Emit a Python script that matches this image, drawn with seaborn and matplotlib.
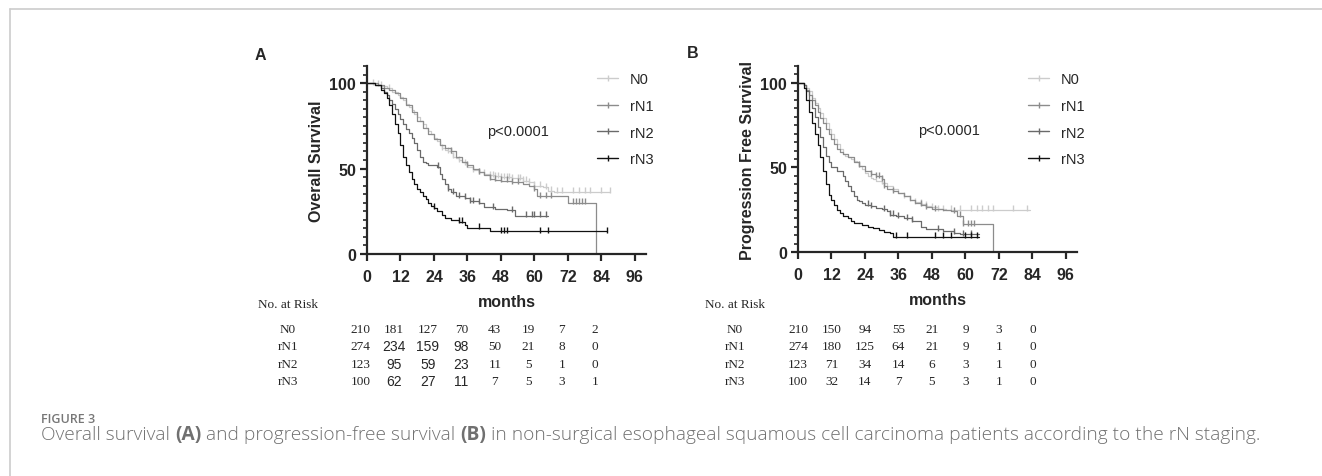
import numpy as np
import pandas as pd
import matplotlib
matplotlib.use("Agg")
import matplotlib.pyplot as plt
import matplotlib.transforms as mtransforms
from matplotlib.lines import Line2D
from matplotlib.ticker import MultipleLocator
import seaborn as sns

sns.set_style('ticks')
plt.rcParams['font.family'] = ['Liberation Sans', 'DejaVu Sans']

GROUPS = ['N0', 'rN1', 'rN2', 'rN3']
COLORS = ['#cccccc', '#8c8c8c', '#6a6a6a', '#111111']
RISK_MONTHS = [0, 12, 24, 36, 48, 60, 72, 84]

# ---- panel A: overall survival (time, survival after step) ----
os_n0_t = [0, 3, 5, 7, 9, 11, 12, 13, 14, 15, 16, 17, 18, 19, 20, 21, 22, 23, 24, 25, 26, 27, 28, 29, 30,
           31, 32, 33, 34, 35, 36, 38, 40, 42, 44, 46, 48, 52, 56, 58, 60, 63, 65, 67, 87]
os_n0_s = [100, 99, 98.5, 97, 95, 93, 92, 90, 88, 86, 84, 82, 80, 78, 76, 74, 72, 70, 68, 66, 64, 62, 61, 60, 59,
           57, 56, 55, 54, 53, 51, 49, 48, 47, 46, 45.5, 45, 44.5, 43, 42, 40, 39, 37, 36.5, 36.5]
os_n1_t = [0, 4, 6, 8, 10, 12, 14, 16, 18, 20, 22, 24, 26, 28, 30, 32, 34, 36, 38, 40, 42, 44, 46, 48,
           52, 56, 58, 60, 61, 72, 82]
os_n1_s = [100, 99, 97, 96, 94, 91, 87, 83, 78, 74, 70, 67, 64, 62, 60, 57, 54, 52, 50, 48, 46, 44, 43.5, 43,
           42, 41, 40, 38, 34, 30, 0]
os_n2_t = [0, 3, 5, 6, 7, 8, 9, 10, 11, 12, 13, 14, 15, 16, 17, 18, 19, 20, 21, 22, 25, 26, 27, 28, 29, 30,
           32, 35, 37, 40, 42, 46, 50, 53, 65]
os_n2_s = [100, 99, 97, 95, 93, 90, 88, 85, 82, 79, 76, 73, 71, 68, 65, 61, 57, 54, 53, 52, 51, 47, 44, 41, 38, 36,
           34, 33, 31, 30, 27.5, 26.5, 25.5, 22.5, 22.5]
os_n3_t = [0, 3, 5, 6, 7, 8, 9, 10, 11, 12, 13, 14, 15, 16, 17, 18, 19, 20, 21, 22, 23, 24, 25, 27, 28, 30,
           33, 35, 36, 44, 86]
os_n3_s = [100, 99, 96, 94, 91, 87, 82, 76, 71, 64, 57, 52, 48, 44, 41, 38, 36, 34, 32, 30, 28, 27, 25, 23, 21, 20,
           19, 17, 15.5, 13.4, 13.4]
os_cens_n0 = [2, 4, 5, 8, 27, 29, 31, 33, 35, 38, 40, 42, 44, 45, 46, 47, 48, 49, 50, 51, 52, 54, 55, 56, 57,
              58, 60, 62, 64, 66, 68, 70, 74, 76, 78, 80, 84, 87]
os_cens_n1 = [30, 36, 40, 44, 46, 48, 50, 52, 54, 60, 62, 64, 66, 74, 75, 76, 77, 78]
os_cens_n2 = [25.5, 29, 31, 33, 35, 37, 38, 40, 45, 52, 57, 59, 60, 62, 64]
os_cens_n3 = [24, 33, 34, 40, 48, 49, 50, 62, 65, 86]

# ---- panel B: progression free survival ----
pfs_n0_t = [0, 2, 3, 4, 5, 6, 7, 8, 9, 10, 11, 12, 13, 14, 15, 16, 17, 18, 19, 20, 21, 22, 23, 24, 25, 26, 27,
            28, 30, 32, 34, 36, 38, 40, 42, 44, 46, 48, 50, 53, 83]
pfs_n0_s = [100, 99, 97, 95, 91, 88, 85, 82, 79, 76, 73, 70, 67, 64, 61, 58, 57, 56, 55, 54, 53, 51, 49, 47, 45, 44, 43,
            42, 41, 39, 37, 35, 33, 31, 29.5, 28.5, 27.5, 26.5, 25.5, 25, 25]
pfs_n1_t = [0, 2, 3, 4, 5, 6, 7, 8, 9, 10, 11, 12, 13, 14, 15, 16, 18, 20, 22, 24, 26, 28, 30, 31, 32, 34, 36,
            38, 40, 42, 44, 46, 48, 52, 55, 57, 59, 70]
pfs_n1_s = [100, 99, 96, 93, 90, 87, 83, 79, 76, 73, 70, 67, 64, 61, 59, 58, 56, 53, 51, 48, 46, 45, 43, 39, 37, 36, 35,
            33, 31, 29, 28, 26.5, 25.5, 25, 24, 21.5, 16.5, 0]
pfs_n2_t = [0, 2, 3, 4, 5, 6, 7, 8, 9, 10, 11, 12, 14, 16, 17, 18, 19, 20, 21, 22, 23, 24, 26, 28, 30, 32, 33,
            35, 38, 41, 44, 46, 52, 56, 58, 65]
pfs_n2_s = [100, 99, 95, 90, 85, 80, 74, 68, 62, 57, 53, 50, 48, 45, 42, 39, 36, 33, 31, 30, 29, 28, 27, 26, 25.5, 24, 22,
            21, 20, 18.5, 15, 13.5, 12.5, 11.5, 10.5, 10.5]
pfs_n3_t = [0, 2, 3, 4, 5, 6, 7, 8, 9, 10, 11, 12, 13, 14, 15, 16, 18, 19, 20, 23, 25, 27, 29, 31, 33, 34, 65]
pfs_n3_s = [100, 97, 90, 83, 76, 70, 63, 56, 48, 40, 34, 31, 28, 25, 23, 21.5, 20, 18.5, 17, 16, 15, 14, 13, 12, 11, 9, 9]
pfs_cens_n0 = [30, 38, 40, 42, 44, 46, 48, 50, 52, 55, 58, 62, 64, 66, 68, 70, 77, 82]
pfs_cens_n1 = [22, 26, 28, 29, 30, 31, 34, 44, 46, 49, 56, 58, 59, 61, 62, 63]
pfs_cens_n2 = [25, 26, 31, 33, 34, 36, 39, 41, 50, 56, 59, 62]
pfs_cens_n3 = [35, 39, 49, 52, 55, 60, 62, 64]

# ---- numbers at risk ----
os_risk_n0 = [210, 181, 127, 70, 43, 19, 7, 2]
os_risk_n1 = [274, 234, 159, 98, 50, 21, 8, 0]
os_risk_n2 = [123, 95, 59, 23, 11, 5, 1, 0]
os_risk_n3 = [100, 62, 27, 11, 7, 5, 3, 1]
pfs_risk_n0 = [210, 150, 94, 55, 21, 9, 3, 0]
pfs_risk_n1 = [274, 180, 125, 64, 21, 9, 1, 0]
pfs_risk_n2 = [123, 71, 34, 14, 6, 3, 1, 0]
pfs_risk_n3 = [100, 32, 14, 7, 5, 3, 1, 0]

W, H = 1322, 477
fig = plt.figure(figsize=(W / 100, H / 100), dpi=100)


def fx(px):
    return px / W


def fy(py):
    return 1 - py / H


def km_panel(ax, curves, censors, ylabel):
    for (t, s), cens, col, name in zip(curves, censors, COLORS, GROUPS):
        df = pd.DataFrame({'month': t, 'surv': s})
        sns.lineplot(data=df, x='month', y='surv', drawstyle='steps-post', color=col,
                     lw=0.9, estimator=None, sort=False, ax=ax)
        t_arr = np.array(t)
        s_arr = np.array(s)
        idx = np.searchsorted(t_arr, cens, side='right') - 1
        ax.plot(cens, s_arr[idx] + 0.8, ls='none', marker='|', ms=4, mew=1.0, color=col)
    ax.set_xlim(0, 100)
    ax.set_ylim(0, 110)
    ax.set_xticks(RISK_MONTHS + [96])
    ax.set_yticks([0, 50, 100])
    ax.yaxis.set_minor_locator(MultipleLocator(5))
    ax.tick_params(axis='both', which='major', length=5, width=1.6, labelsize=11.5, pad=3)
    ax.tick_params(axis='x', which='major', pad=6)
    ax.tick_params(axis='y', which='minor', length=3, width=1.2, left=True)
    for lab in ax.get_xticklabels() + ax.get_yticklabels():
        lab.set_fontweight('bold')
    for sp in ['left', 'bottom']:
        ax.spines[sp].set_linewidth(1.6)
    sns.despine(ax=ax)
    ax.set_xlabel('months', fontsize=11.5, fontweight='bold', labelpad=7)
    ax.set_ylabel(ylabel, fontsize=11.5, fontweight='bold', labelpad=4)
    ax.text(43, 72, 'p<0.0001', fontsize=10.5, ha='left', va='center')
    handles = [Line2D([], [], color=c, lw=1.0, marker='|', ms=4, mew=1.0) for c in COLORS]
    ax.legend(handles, GROUPS, loc='upper left', bbox_to_anchor=(0.805, 1.0), frameon=False,
              fontsize=10.5, handlelength=1.4, handletextpad=0.8, labelspacing=0.88, borderaxespad=0.0)


axA = fig.add_axes([fx(367), fy(255), 100 * 2.79 / W, (255 - 67) / H])
axB = fig.add_axes([fx(798), fy(253), 100 * 2.79 / W, (253 - 67) / H])

km_panel(axA, [(os_n0_t, os_n0_s), (os_n1_t, os_n1_s), (os_n2_t, os_n2_s), (os_n3_t, os_n3_s)],
         [os_cens_n0, os_cens_n1, os_cens_n2, os_cens_n3], 'Overall Survival')
km_panel(axB, [(pfs_n0_t, pfs_n0_s), (pfs_n1_t, pfs_n1_s), (pfs_n2_t, pfs_n2_s), (pfs_n3_t, pfs_n3_s)],
         [pfs_cens_n0, pfs_cens_n1, pfs_cens_n2, pfs_cens_n3], 'Progression Free Survival')

fig.text(fx(255), fy(55), 'A', fontsize=11.5, fontweight='bold', ha='left', va='center')
fig.text(fx(687), fy(53), 'B', fontsize=11.5, fontweight='bold', ha='left', va='center')

# ---- risk tables ----
SERIF = ['Liberation Serif', 'DejaVu Serif']
SANS = ['Liberation Sans', 'DejaVu Sans']
row_y = [330, 347, 365, 382]


def risk_table(ax, rows, label_x, head_x, shift, sans_cells):
    trans = mtransforms.blended_transform_factory(ax.transData, fig.transFigure)
    fig.text(fx(head_x), fy(305), 'No. at Risk', family=SERIF, fontsize=9.5, ha='left', va='center')
    for r, (name, vals) in enumerate(zip(GROUPS, rows)):
        fig.text(fx(label_x), fy(row_y[r]), name, family=SERIF, fontsize=9.5, ha='center', va='center')
        for c, (m, v) in enumerate(zip(RISK_MONTHS, vals)):
            sans = (r, c) in sans_cells
            ax.text(m + shift, fy(row_y[r]), str(v), transform=trans, ha='center', va='center',
                    family=SANS if sans else SERIF, fontsize=10 if sans else 9.5, clip_on=False)


sans_A = {(r, c) for r in (1, 2, 3) for c in (1, 2, 3)}
risk_table(axA, [os_risk_n0, os_risk_n1, os_risk_n2, os_risk_n3], 288, 258, -2.2, sans_A)
risk_table(axB, [pfs_risk_n0, pfs_risk_n1, pfs_risk_n2, pfs_risk_n3], 735, 705, 0.0, set())

# ---- frame and caption ----
fig.add_artist(Line2D([fx(10), 1.0], [fy(10), fy(10)], color='#cccccc', lw=1.2))
fig.add_artist(Line2D([fx(10), fx(10)], [fy(10), 0.0], color='#cccccc', lw=1.2))
CAP = ['Open Sans', 'DejaVu Sans']
fig.text(fx(41), fy(420), 'FIGURE 3', family=CAP, fontsize=9, fontweight='semibold',
         color='#777777', ha='left', va='center')
parts = [('Overall survival ', 'light'), ('(A)', 'bold'), (' and progression-free survival ', 'light'),
         ('(B)', 'bold'),
         (' in non-surgical esophageal squamous cell carcinoma patients according to the rN staging.', 'light')]
fig.canvas.draw()
r = fig.canvas.get_renderer()
x0 = fx(41)
for txt, w in parts:
    t = fig.text(x0, fy(435), txt, family=CAP, fontsize=13.8, fontweight=w, color='#707070',
                 ha='left', va='center')
    bb = t.get_window_extent(renderer=r)
    x0 = bb.x1 / W

fig.savefig('out.png', dpi=100)
